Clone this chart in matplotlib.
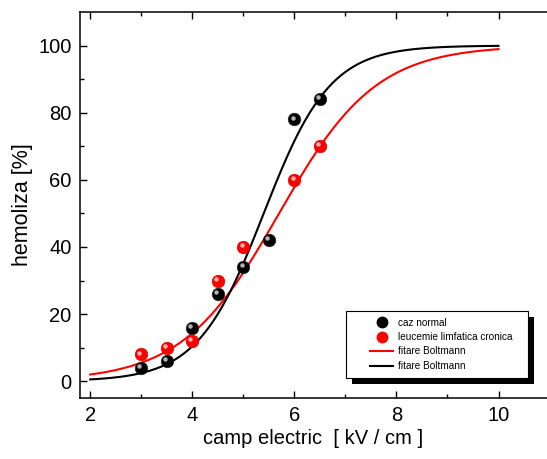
import numpy as np
import matplotlib
matplotlib.use("Agg")
import matplotlib.pyplot as plt
from matplotlib.transforms import offset_copy, IdentityTransform
from matplotlib.patches import Rectangle
from matplotlib.lines import Line2D

plt.rcParams['font.family'] = ['Liberation Sans', 'DejaVu Sans']

# data
x_normal = [3.0, 3.5, 4.0, 4.5, 5.0, 5.5, 6.0, 6.5]
y_normal = [4, 6, 16, 26, 34, 42, 78, 84]
x_leuc = [3.0, 3.5, 4.0, 4.5, 5.0, 6.0, 6.5]
y_leuc = [8, 10, 12, 30, 40, 60, 70]

# Boltzmann fit parameters (A1, A2, x0, dx)
fit_normal = (0.0, 100.0, 5.4, 0.65)
fit_leuc = (0.0, 100.0, 5.7, 0.95)
fit_range = (2.0, 10.0)


def boltzmann(x, a1, a2, x0, dx):
    return a2 + (a1 - a2) / (1 + np.exp((x - x0) / dx))


fig = plt.figure(figsize=(5.47, 4.59), dpi=100)
ax = fig.add_axes([80 / 547, 61 / 459, 1 - 80 / 547, 386 / 459])

xf = np.linspace(fit_range[0], fit_range[1], 400)
ax.plot(xf, boltzmann(xf, *fit_leuc), color='#ff0000', lw=1.5, zorder=2)
ax.plot(xf, boltzmann(xf, *fit_normal), color='black', lw=1.5, zorder=2)

hl = offset_copy(ax.transData, fig=fig, x=-1.3, y=1.3, units='points')
ax.plot(x_normal, y_normal, 'o', color='black', ms=9, mec='#222222', mew=0.5, zorder=3)
ax.plot(x_normal, y_normal, 'o', color='#c8c8c8', ms=3.2, mew=0, alpha=0.9,
        transform=hl, zorder=4)
ax.plot(x_leuc, y_leuc, 'o', color='#ff0000', ms=9, mec='#dd0000', mew=0.5, zorder=3)
ax.plot(x_leuc, y_leuc, 'o', color='#ffc8c8', ms=3.2, mew=0, alpha=0.9,
        transform=hl, zorder=4)

ax.set_xlim(1.8, 10.95)
ax.set_ylim(-5, 110)
ax.set_xticks([2, 4, 6, 8, 10])
ax.set_xticks([3, 5, 7, 9], minor=True)
ax.set_yticks([0, 20, 40, 60, 80, 100])
ax.set_yticks([10, 30, 50, 70, 90], minor=True)
ax.spines['right'].set_visible(False)
for s in ['left', 'bottom', 'top']:
    ax.spines[s].set_linewidth(1.1)
ax.tick_params(axis='both', which='both', direction='in', labelsize=14.5, width=1.0)
ax.tick_params(which='major', length=5)
ax.tick_params(which='minor', length=3)
ax.tick_params(axis='x', which='both', top=True)
ax.xaxis.set_tick_params(which='major', pad=6)
ax.yaxis.set_tick_params(which='major', pad=6)

ax.set_xlabel('camp electric  [ kV / cm ]', fontsize=14.5, labelpad=3)
ax.set_ylabel('hemoliza [%]', fontsize=15.5, labelpad=4)

handles = [
    Line2D([], [], ls='none', marker='o', color='black', ms=7.5),
    Line2D([], [], ls='none', marker='o', color='#ff0000', ms=7.5),
    Line2D([], [], color='#ff0000', lw=1.5),
    Line2D([], [], color='black', lw=1.5),
]
labels = ['caz normal', 'leucemie limfatica cronica', 'fitare Boltmann', 'fitare Boltmann']
# legend content placed without its own frame; frame + shadow drawn around it
leg = ax.legend(handles, labels, loc='lower left',
                bbox_to_anchor=(370 / 547, 88 / 459), bbox_transform=fig.transFigure,
                fontsize=7.2, frameon=False, borderpad=0.0, labelspacing=0.45,
                handlelength=2.3, handletextpad=0.5, borderaxespad=0)
leg.set_zorder(7)

fig.canvas.draw()
bb = leg.get_window_extent()
fx0, fx1 = bb.x0 - 24, bb.x1 + 15
fy0, fy1 = bb.y0 - 7, bb.y1 + 7
shadow = Rectangle((fx0 + 6, fy0 - 6), fx1 - fx0, fy1 - fy0,
                   transform=IdentityTransform(),
                   facecolor='black', edgecolor='none', zorder=5, clip_on=False)
frame = Rectangle((fx0, fy0), fx1 - fx0, fy1 - fy0,
                  transform=IdentityTransform(),
                  facecolor='white', edgecolor='black', lw=0.8, zorder=6, clip_on=False)
ax.add_artist(shadow)
ax.add_artist(frame)

fig.savefig('out.png', dpi=100)
